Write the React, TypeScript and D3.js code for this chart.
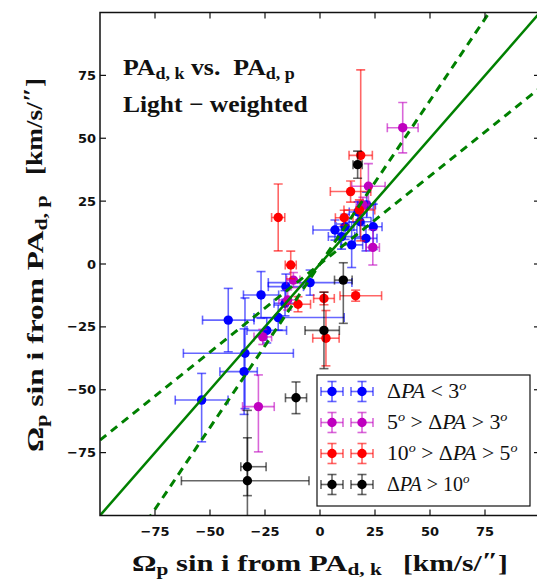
import React, { useLayoutEffect, useRef, useState } from "react";
import * as d3 from "d3";

// ---- data ----
const xTicks = [-75, -50, -25, 0, 25, 50, 75];
const yTicks = [-75, -50, -25, 0, 25, 50, 75];

// each error: [lo, hi]
const blueX = [6.8, 11.4, 18.2, 21.2, 24.2, 9.8, 14.4, 20.9, 17.3, -4.5, -15.5, -26.8, -15.9, -19, -24.2, -41.7, -34.1, -34.5, -53.8];
const blueY = [13.5, 14.8, 16.8, 23.5, 14.8, 10.9, 7.6, 10.2, 20.7, -7.4, -9, -12.3, -15.6, -21.3, -26.4, -22.3, -35.5, -42.8, -54.1];
const blueXErr = [[10, 10], [4, 4], [5, 5], [4, 4], [4, 4], [6, 6], [5, 5], [5, 5], [4, 4], [19, 19], [8, 8], [8, 8], [5, 5], [11, 30], [9, 9], [11.7, 11.7], [28, 22], [11, 6], [12, 12]];
const blueYErr = [[4, 4], [5, 5], [6, 6], [5, 5], [9, 9], [5, 5], [9, 9], [5, 5], [4, 4], [5, 5], [5, 5], [9.3, 9.3], [5, 5], [5, 5], [5, 5], [12.6, 12.6], [22, 22], [17, 17], [16.6, 10.6]];

const magX = [37.6, 22, 24, 19.5, -12.1, -14.7, -26, -28];
const magY = [54.2, 30.9, 6.6, 23.5, -6.4, -14.3, -29, -56.7];
const magXErr = [[7, 7], [7.6, 7.6], [3, 3], [3, 3], [3, 3], [4, 4], [4, 4], [7.2, 7.2]];
const magYErr = [[10, 10], [9, 9], [7, 7], [3, 3], [3, 3], [4, 4], [3, 3], [18, 12.6]];

const redX = [18.5, 13.9, 17.9, 11, -19, -13.3, -10, 1.8, 16.2, 2.7];
const redY = [43.2, 28.8, 21.5, 18.4, 18.5, -0.4, -16, -13.7, -12.6, -29.5];
const redXErr = [[5.3, 5.3], [9.2, 9.2], [7, 7], [4, 4], [3, 3], [2.5, 2.5], [5.7, 5.7], [4.7, 4.7], [7.1, 11.8], [6, 6]];
const redYErr = [[34, 34], [4.2, 4.2], [4, 4], [3, 3], [13.3, 13.3], [5.5, 5.5], [3, 3], [2.5, 2.5], [2.2, 2.2], [11, 11]];

const blackX = [17.1, 10.6, 1.8, -10.9, -33, -33];
const blackY = [39.5, -6.4, -26.4, -53.2, -80.6, -86.2];
const blackXErr = [[2.1, 2.1], [4, 4], [8.6, 7], [4.8, 4.8], [3, 8.5], [30, 28]];
const blackYErr = [[5.4, 5.4], [17.2, 6.9], [15.2, 15.2], [6.3, 6.3], [11.5, 11.5], [30, 28]];

const lineSlopes = [1];
const dashSlopes = [0.7, 1.3];

const groups = [
  { color: "#0000ff", x: blueX, y: blueY, xe: blueXErr, ye: blueYErr },
  { color: "#bf00bf", x: magX, y: magY, xe: magXErr, ye: magYErr },
  { color: "#ff0000", x: redX, y: redY, xe: redXErr, ye: redYErr },
  { color: "#000000", x: blackX, y: blackY, xe: blackXErr, ye: blackYErr },
];

const W = 537;
const H = 579;
const L = 100, R = 540, T = 12.5, B = 515.5;

const xs = d3.scaleLinear().domain([-100, 100]).range([L, R]);
const ys = d3.scaleLinear().domain([-100, 100]).range([B, T]);

const serif = "Liberation Serif, Times New Roman, Times, serif";
const sansBold = "DejaVu Sans, sans-serif";
const green = "#008000";
const CAP = 4.5;

function ErrPoint({ cx, cy, x0, x1, y0, y1, color }: any) {
  return (
    <g>
      <g stroke={color} strokeWidth={1.6} strokeOpacity={0.6} fill="none">
        <line x1={x0} x2={x1} y1={cy} y2={cy} />
        <line x1={cx} x2={cx} y1={y0} y2={y1} />
        <line x1={x0} x2={x0} y1={cy - CAP} y2={cy + CAP} />
        <line x1={x1} x2={x1} y1={cy - CAP} y2={cy + CAP} />
        <line x1={cx - CAP} x2={cx + CAP} y1={y0} y2={y0} />
        <line x1={cx - CAP} x2={cx + CAP} y1={y1} y2={y1} />
      </g>
      <circle cx={cx} cy={cy} r={4.7} fill={color} />
    </g>
  );
}

// text whose horizontal extent is fitted to a target width (font in reference is wider)
function FitText({ x, y, width, rotate = 0, children, ...rest }: any) {
  const ref = useRef<SVGTextElement>(null);
  const [s, setS] = useState(1);
  useLayoutEffect(() => {
    if (ref.current) {
      const w = ref.current.getBBox().width;
      if (w > 0) setS(width / w);
    }
  }, [width]);
  return (
    <g transform={`translate(${x},${y}) rotate(${rotate}) scale(${s},1)`}>
      <text ref={ref} x={0} y={0} {...rest}>
        {children}
      </text>
    </g>
  );
}

export default function App() {
  const lineGen = d3.line<[number, number]>().x((d) => xs(d[0])).y((d) => ys(d[1]));
  const span = [-100, 100];
  const sup = (s: string) => (
    <tspan fontSize={13} dy={-8} fontStyle="italic">{s}</tspan>
  );
  const sub = (s: string) => (
    <tspan fontSize={16} dy={4}>{s}</tspan>
  );
  return (
    <svg width={W} height={H} style={{ position: "absolute", left: 0, top: 0, background: "#fff" }}>
      <defs>
        <clipPath id="plot">
          <rect x={L} y={T} width={R - L} height={B - T} />
        </clipPath>
      </defs>
      <rect x={0} y={0} width={W} height={H} fill="#fff" />
      <g clipPath="url(#plot)">
        {groups.map((g, gi) =>
          g.x.map((xv, i) => (
            <ErrPoint
              key={gi + "-" + i}
              cx={xs(xv)}
              cy={ys(g.y[i])}
              x0={xs(xv - g.xe[i][0])}
              x1={xs(xv + g.xe[i][1])}
              y0={ys(g.y[i] + g.ye[i][1])}
              y1={ys(g.y[i] - g.ye[i][0])}
              color={g.color}
            />
          ))
        )}
        {lineSlopes.map((s) => (
          <path key={"l" + s} d={lineGen(span.map((v) => [v, s * v]) as any) || ""} stroke={green} strokeWidth={2.5} fill="none" />
        ))}
        {dashSlopes.map((s) => (
          <path key={"d" + s} d={lineGen(span.map((v) => [v, s * v]) as any) || ""} stroke={green} strokeWidth={3} strokeDasharray="8,6" fill="none" />
        ))}
      </g>
      <rect x={L} y={T} width={R - L} height={B - T} fill="none" stroke="#111" strokeWidth={1.5} />
      <g stroke="#111" strokeWidth={1.2}>
        {xTicks.map((t) => (
          <g key={"xt" + t}>
            <line x1={xs(t)} x2={xs(t)} y1={B} y2={B - 6} />
            <line x1={xs(t)} x2={xs(t)} y1={T} y2={T + 6} />
          </g>
        ))}
        {yTicks.map((t) => (
          <g key={"yt" + t}>
            <line x1={L} x2={L + 6} y1={ys(t)} y2={ys(t)} />
            <line x1={R} x2={R - 6} y1={ys(t)} y2={ys(t)} />
          </g>
        ))}
      </g>
      <g fontFamily={sansBold} fontWeight="bold" fontSize={13} fill="#111">
        {xTicks.map((t) => (
          <text key={"xl" + t} x={xs(t)} y={536} textAnchor="middle">
            {t < 0 ? "\u2212" + Math.abs(t) : String(t)}
          </text>
        ))}
        {yTicks.map((t) => (
          <text key={"yl" + t} x={96} y={ys(t) + 4.5} textAnchor="end">
            {t < 0 ? "\u2212" + Math.abs(t) : String(t)}
          </text>
        ))}
      </g>
      <g style={{ fontFamily: serif }} fontWeight="bold" fill="#111">
        <FitText x={123} y={75} width={172} fontSize={23}>
          PA{sub("d, k")}
          <tspan dy={-4}>{"\u00a0vs.\u00a0 PA"}</tspan>
          {sub("d, p")}
        </FitText>
        <FitText x={123} y={111.5} width={185} fontSize={23}>
          {"Light \u2212 weighted"}
        </FitText>
        <FitText x={132} y={571} width={250} fontSize={23}>
          Ω{sub("p")}
          <tspan dy={-4}>{"\u00a0sin i from PA"}</tspan>
          {sub("d, k")}
        </FitText>
        <FitText x={403} y={571} width={105} fontSize={23}>
          {"[km/s/"}<tspan dy={-3}>{"\u2033"}</tspan><tspan dy={3}>]</tspan>
        </FitText>
        <FitText x={43} y={452} rotate={-90} width={257} fontSize={23}>
          Ω{sub("p")}
          <tspan dy={-4}>{"\u00a0sin i from PA"}</tspan>
          {sub("d, p")}
        </FitText>
        <FitText x={42} y={175} rotate={-90} width={97} fontSize={23}>
          {"[km/s/"}<tspan dy={-3}>{"\u2033"}</tspan><tspan dy={3}>]</tspan>
        </FitText>
      </g>
      <g>
        <rect x={317} y={375} width={213} height={131} fill="#fff" stroke="#111" strokeWidth={1.2} />
        {groups.map((g, gi) => {
          const cy = 391.5 + gi * 31;
          return (
            <g key={"lg" + gi}>
              {[332, 362].map((cx) => (
                <ErrPoint key={cx} cx={cx} cy={cy} x0={cx - 11} x1={cx + 11} y0={cy - 10} y1={cy + 10} color={g.color} />
              ))}
            </g>
          );
        })}
        <g style={{ fontFamily: serif }} fontSize={20} fill="#111">
          <FitText x={387} y={398} width={80}>
            Δ<tspan fontStyle="italic">PA</tspan>{"\u00a0<\u00a03"}{sup("o")}
          </FitText>
          <FitText x={387} y={429} width={121}>
            5{sup("o")}
            <tspan dy={8}>{"\u00a0>\u00a0Δ"}</tspan>
            <tspan fontStyle="italic">PA</tspan>{"\u00a0>\u00a03"}{sup("o")}
          </FitText>
          <FitText x={387} y={460} width={131}>
            10{sup("o")}
            <tspan dy={8}>{"\u00a0>\u00a0Δ"}</tspan>
            <tspan fontStyle="italic">PA</tspan>{"\u00a0>\u00a05"}{sup("o")}
          </FitText>
          <FitText x={387} y={491} width={83}>
            Δ<tspan fontStyle="italic">PA</tspan>{"\u00a0>\u00a010"}{sup("o")}
          </FitText>
        </g>
      </g>
    </svg>
  );
}
